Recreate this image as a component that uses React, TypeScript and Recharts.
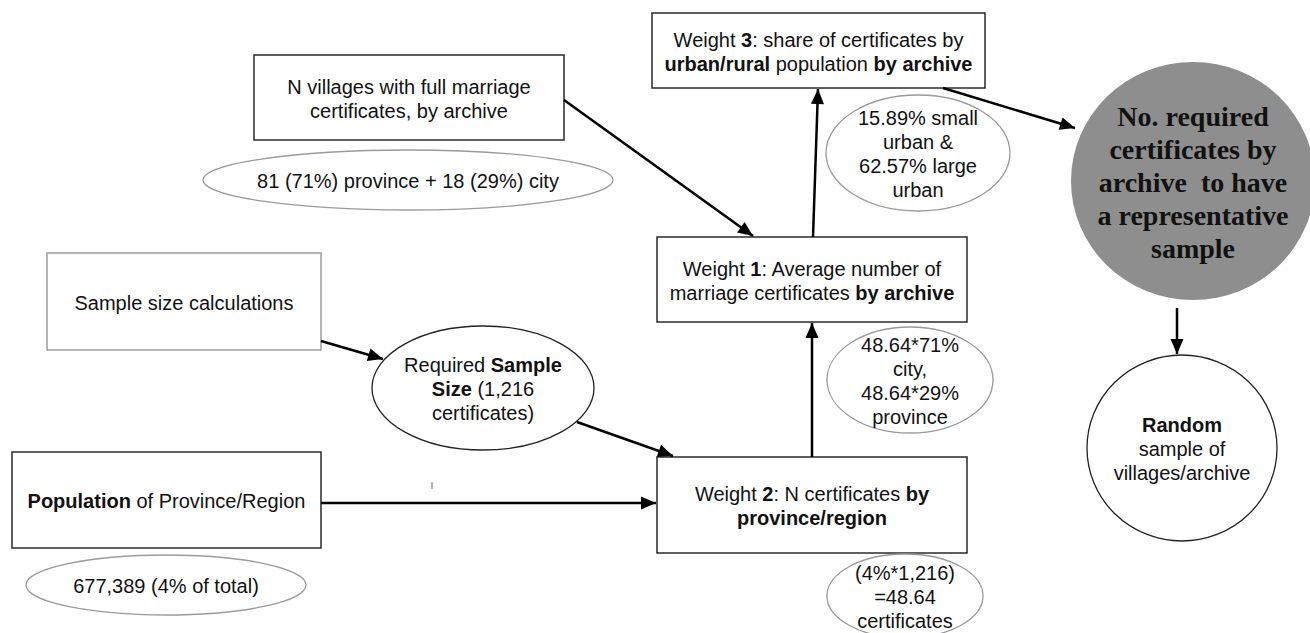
import React from "react";
import { ScatterChart, Scatter, XAxis, YAxis, ReferenceLine } from "recharts";

// Flow diagram drawn on a 1310 x 633 plane; the axes map 1:1 onto pixels.
const W = 1310;
const H = 633;

type Kind = "box" | "softBox" | "note" | "bubble" | "filled";

// what each node says ("**" toggles bold)
const NODES: { id: string; kind: Kind; lines: string[] }[] = [
  { id: "villages", kind: "box", lines: ["N villages with full marriage", "certificates, by archive"] },
  { id: "villagesNote", kind: "note", lines: ["81 (71%) province + 18 (29%) city"] },
  { id: "sampleCalc", kind: "softBox", lines: ["Sample size calculations"] },
  { id: "required", kind: "bubble", lines: ["Required **Sample**", "**Size** (1,216", "certificates)"] },
  { id: "population", kind: "box", lines: ["**Population** of Province/Region"] },
  { id: "popNote", kind: "note", lines: ["677,389 (4% of total)"] },
  { id: "weight2", kind: "box", lines: ["Weight **2**: N certificates **by**", "**province/region**"] },
  { id: "weight2Note", kind: "note", lines: ["(4%*1,216)", "=48.64", "certificates"] },
  { id: "weight1", kind: "box", lines: ["Weight **1**: Average number of", "marriage certificates **by archive**"] },
  { id: "weight1Note", kind: "note", lines: ["48.64*71%", "city,", "48.64*29%", "province"] },
  { id: "weight3", kind: "box", lines: ["Weight **3**: share of certificates by", "**urban/rural** population **by archive**"] },
  { id: "weight3Note", kind: "note", lines: ["15.89% small", "urban &", "62.57% large", "urban"] },
  { id: "result", kind: "filled", lines: ["No. required", "certificates by", "archive  to have", "a representative", "sample"] },
  { id: "random", kind: "bubble", lines: ["**Random**", "sample of", "villages/archive"] },
];

// node centres, in diagram units
const NODE_CENTRES: Record<string, [number, number]> = {
  villages: [409, 97.5],
  villagesNote: [408, 180],
  sampleCalc: [184, 301.5],
  required: [483, 388],
  population: [166.5, 500],
  popNote: [166, 585],
  weight2: [812, 505],
  weight2Note: [905, 596],
  weight1: [812, 279.5],
  weight1Note: [910, 380],
  weight3: [818.5, 50.5],
  weight3Note: [918, 153],
  result: [1193, 181],
  random: [1182, 448],
};

// node extents (width, height), in diagram units
const NODE_EXTENTS: Record<string, [number, number]> = {
  villages: [310, 85],
  villagesNote: [410, 60],
  sampleCalc: [274, 97],
  required: [222, 124],
  population: [309, 96],
  popNote: [280, 60],
  weight2: [310, 96],
  weight2Note: [156, 84],
  weight1: [310, 85],
  weight1Note: [166, 106],
  weight3: [333, 75],
  weight3Note: [184, 116],
  result: [244, 238],
  random: [190, 186],
};

// arrows: start point -> tip
const EDGES: [number, number, number, number][] = [
  [564, 100, 753, 236],
  [321, 341, 383, 359],
  [577, 422, 673, 456],
  [321, 503, 656, 503],
  [812, 457, 812, 323],
  [813, 237, 818, 89],
  [943, 88, 1075, 128],
  [1177, 308, 1177, 354],
];

const SANS = '"Liberation Sans", Arial, Helvetica, sans-serif';
const SERIF = '"Liberation Serif", "Times New Roman", serif';

function Lines({ x, y, lines, size, gap, family, bold }: any) {
  const top = y - ((lines.length - 1) * gap) / 2 + 1;
  return (
    <>
      {lines.map((ln: string, i: number) => (
        <text key={i} x={x} y={top + i * gap} textAnchor="middle" dominantBaseline="central"
          fontSize={size} fontFamily={family} fill="#111" style={{ whiteSpace: "pre" }}>
          {ln.split("**").map((seg, j) => (
            <tspan key={j} fontWeight={bold || j % 2 ? 700 : 400}>{seg}</tspan>
          ))}
        </text>
      ))}
    </>
  );
}

function NodeShape(props: any) {
  const { cx, cy, payload } = props;
  const { kind, w, h, lines } = payload;
  let frame;
  if (kind === "box" || kind === "softBox") {
    frame = <rect x={cx - w / 2} y={cy - h / 2} width={w} height={h} fill="#fff"
      stroke={kind === "box" ? "#2a2a2a" : "#9c9c9c"} strokeWidth={1.5} />;
  } else if (kind === "filled") {
    frame = <ellipse cx={cx} cy={cy} rx={w / 2} ry={h / 2} fill="#8e8e8e" />;
  } else {
    frame = <ellipse cx={cx} cy={cy} rx={w / 2} ry={h / 2} fill="#fff"
      stroke={kind === "note" ? "#9a9a9a" : "#222"} strokeWidth={1.3} />;
  }
  const serif = kind === "filled";
  return (
    <g>
      {frame}
      <Lines x={cx} y={cy} lines={lines} size={serif ? 28 : 20} gap={serif ? 33 : 24}
        family={serif ? SERIF : SANS} bold={serif} />
    </g>
  );
}

function ArrowTip(props: any) {
  const { cx, cy, payload } = props;
  if (!payload.tip) return <g />;
  const a = payload.ang;
  const L = 15, hw = 6.5;
  const bx = cx - L * Math.cos(a), by = cy - L * Math.sin(a);
  const pts = [
    [cx, cy],
    [bx - hw * Math.sin(a), by + hw * Math.cos(a)],
    [bx + hw * Math.sin(a), by - hw * Math.cos(a)],
  ].map((p) => p.join(",")).join(" ");
  return <polygon points={pts} fill="#000" />;
}

export default function App() {
  const nodeData = NODES.map((n) => ({
    ...n,
    x: NODE_CENTRES[n.id][0],
    y: NODE_CENTRES[n.id][1],
    w: NODE_EXTENTS[n.id][0],
    h: NODE_EXTENTS[n.id][1],
  }));
  const edgeData = EDGES.map(([x1, y1, x2, y2]) => [
    { x: x1, y: y1, tip: false, ang: 0 },
    { x: x2, y: y2, tip: true, ang: Math.atan2(y2 - y1, x2 - x1) },
  ]);

  return (
    <div style={{ position: "fixed", left: 0, top: 0, width: W, height: H, background: "#fff" }}>
      <ScatterChart width={W} height={H} margin={{ top: 0, right: 0, bottom: 0, left: 0 }}>
        <XAxis type="number" dataKey="x" domain={[0, W]} allowDataOverflow hide />
        <YAxis type="number" dataKey="y" domain={[0, H]} allowDataOverflow reversed hide />
        <Scatter data={nodeData} shape={NodeShape} isAnimationActive={false} />
        {edgeData.map((pts, i) => (
          <Scatter key={i} data={pts} line={{ stroke: "#000", strokeWidth: 2.5 }}
            shape={ArrowTip} isAnimationActive={false} />
        ))}
        <ReferenceLine segment={[{ x: 432, y: 482 }, { x: 432, y: 489 }]} stroke="#9a9a9a" strokeWidth={1.5} />
      </ScatterChart>
    </div>
  );
}
